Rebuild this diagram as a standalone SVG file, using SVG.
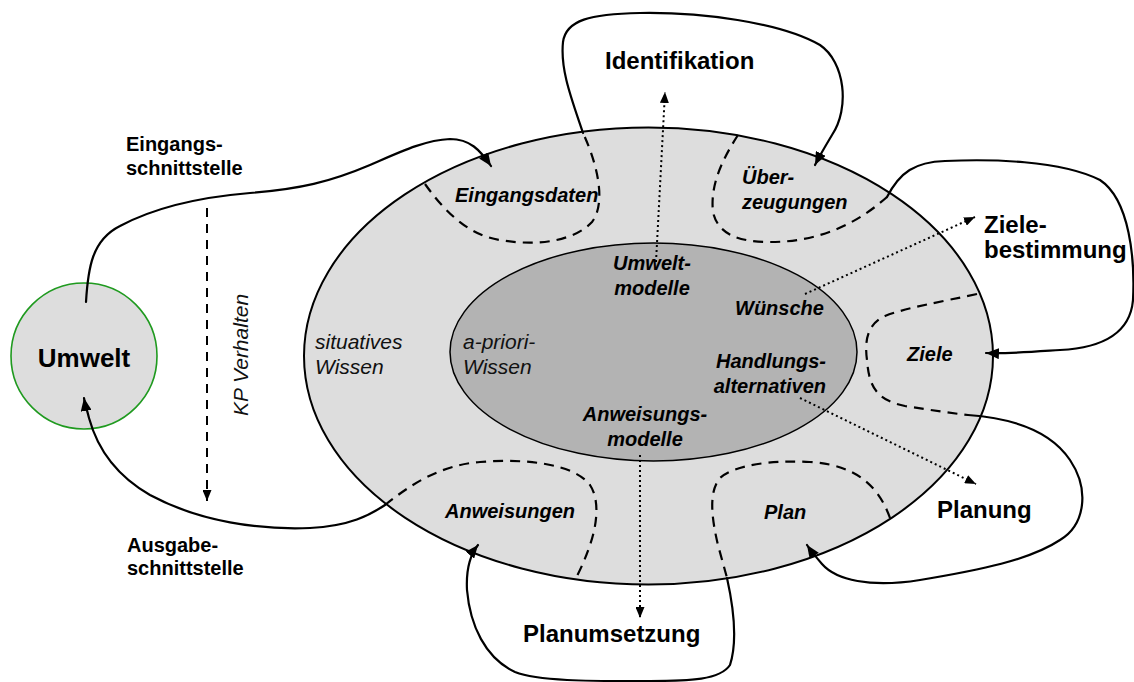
<svg xmlns="http://www.w3.org/2000/svg" width="1134" height="682" viewBox="0 0 1134 682">
  <style>
    .bold { font-family: "Liberation Sans", Arial, sans-serif; font-weight: bold; fill: #000; }
    .bi { font-family: "Liberation Sans", Arial, sans-serif; font-weight: bold; font-style: italic; font-size: 20px; fill: #000; }
    .it { font-family: "Liberation Sans", Arial, sans-serif; font-style: italic; font-size: 21px; fill: #111; }
    .big { font-size: 24px; }
    .mid { font-size: 20px; }
    .flow { fill: none; stroke: #000; stroke-width: 2.2; stroke-linecap: round; }
    .region { fill: none; stroke: #000; stroke-width: 2.2; stroke-dasharray: 10 7; }
    .dot { fill: none; stroke: #000; stroke-width: 2; stroke-dasharray: 2 3; }
  </style>
  <defs>
    <marker id="arrow" markerUnits="userSpaceOnUse" markerWidth="13" markerHeight="11" refX="13" refY="5.5" orient="auto">
      <path d="M0,0 L13,5.5 L0,11 z" fill="#000"/>
    </marker>
    <marker id="arrowSmall" markerUnits="userSpaceOnUse" markerWidth="11" markerHeight="9" refX="11" refY="4.5" orient="auto">
      <path d="M0,0 L11,4.5 L0,9 z" fill="#000"/>
    </marker>
  </defs>

  <rect width="1134" height="682" fill="#fff"/>

  <!-- knowledge base: situative knowledge (outer) and a-priori knowledge (inner) -->
  <g id="situatives-wissen">
    <ellipse cx="648.5" cy="356" rx="344.5" ry="228.5" fill="#dddddd" stroke="#000" stroke-width="2"/>
    <text class="it" x="315" y="349">situatives</text>
    <text class="it" x="315" y="374">Wissen</text>
  </g>
  <g id="apriori-wissen">
    <ellipse cx="653.5" cy="352" rx="203.5" ry="109" fill="#b3b3b3" stroke="#000" stroke-width="1.5"/>
    <text class="it" x="463" y="349">a-priori-</text>
    <text class="it" x="463" y="374">Wissen</text>
  </g>

  <!-- environment -->
  <g id="umwelt">
    <circle cx="84" cy="356" r="73" fill="#dddddd" stroke="#1f9a1f" stroke-width="1.6"/>
    <text class="bold" x="84" y="367" font-size="26" text-anchor="middle">Umwelt</text>
  </g>

  <!-- data regions inside the situative knowledge -->
  <g id="eingangsdaten">
    <path class="region" d="M425,184 C440,205 465,235 500,240 C540,247 575,240 592,222 C605,205 600,170 583,133"/>
    <text class="bi" x="455" y="202">Eingangsdaten</text>
  </g>
  <g id="ueberzeugungen">
    <path class="region" d="M738,135 C722,160 710,185 713,212 C718,235 740,242 770,242 C810,242 850,230 887,197"/>
    <text class="bi" x="742" y="184">Über-</text>
    <text class="bi" x="742" y="209">zeugungen</text>
  </g>
  <g id="ziele">
    <path class="region" d="M977,294 C940,302 905,308 885,316 C865,325 865,345 867,360 C869,385 875,400 905,406 C930,410 950,413 968,415"/>
    <text class="bi" x="907" y="361">Ziele</text>
  </g>
  <g id="plan">
    <path class="region" d="M890,518 C880,490 860,465 810,462 C770,460 735,465 720,478 C708,492 712,520 718,545 C722,560 725,570 727,578"/>
    <text class="bi" x="764" y="519">Plan</text>
  </g>
  <g id="anweisungen">
    <path class="region" d="M385,505 C410,485 440,465 480,462 C530,458 575,465 590,485 C600,500 597,525 590,545 C585,560 580,570 575,580"/>
    <text class="bi" x="445" y="518">Anweisungen</text>
  </g>

  <!-- models inside the a-priori knowledge -->
  <g id="umweltmodelle">
    <text class="bi" x="652" y="270" text-anchor="middle">Umwelt-</text>
    <text class="bi" x="652" y="295" text-anchor="middle">modelle</text>
  </g>
  <g id="wuensche">
    <text class="bi" x="735" y="315">Wünsche</text>
  </g>
  <g id="handlungsalternativen">
    <text class="bi" x="826" y="368" text-anchor="end">Handlungs-</text>
    <text class="bi" x="826" y="393" text-anchor="end">alternativen</text>
  </g>
  <g id="anweisungsmodelle">
    <text class="bi" x="645" y="421" text-anchor="middle">Anweisungs-</text>
    <text class="bi" x="645" y="446" text-anchor="middle">modelle</text>
  </g>

  <!-- process labels -->
  <g id="identifikation">
    <text class="bold big" x="605" y="69">Identifikation</text>
  </g>
  <g id="zielebestimmung">
    <text class="bold big" x="984" y="233">Ziele-</text>
    <text class="bold big" x="984" y="258">bestimmung</text>
  </g>
  <g id="planung">
    <text class="bold big" x="937" y="518">Planung</text>
  </g>
  <g id="planumsetzung">
    <text class="bold big" x="523" y="642">Planumsetzung</text>
  </g>
  <g id="eingangsschnittstelle">
    <text class="bold mid" x="126" y="151">Eingangs-</text>
    <text class="bold mid" x="126" y="175">schnittstelle</text>
  </g>
  <g id="ausgabeschnittstelle">
    <text class="bold mid" x="127" y="552">Ausgabe-</text>
    <text class="bold mid" x="127" y="575">schnittstelle</text>
  </g>
  <g id="kp-verhalten">
    <text class="it" font-size="20" transform="translate(248,355) rotate(-90)" text-anchor="middle">KP Verhalten</text>
  </g>

  <!-- connectors -->
  <g id="connectors">
    <!-- input interface -->
    <path class="flow" marker-end="url(#arrow)" d="M86,302 C88,268 92,240 120,226 C150,210 190,198 250,193 C300,189 330,182 370,165 C400,152 425,140 450,139 C470,139 480,150 491,166"/>
    <!-- output interface -->
    <path class="flow" marker-end="url(#arrow)" d="M385,505 C370,515 350,526 310,528 C260,530 200,522 150,495 C110,472 95,440 89,418 C87,410 85,404 84,398"/>
    <!-- behaviour -->
    <path fill="none" stroke="#000" stroke-width="2" stroke-dasharray="9 7" marker-end="url(#arrowSmall)" d="M207,208 L207,501"/>
    <!-- identification loop -->
    <path class="flow" marker-end="url(#arrow)" d="M583,133 C572,100 560,70 563,42 C566,20 590,14 640,13 C700,12 780,22 820,45 C845,62 850,108 832,135 C826,145 820,155 815,165"/>
    <!-- goal determination loop -->
    <path class="flow" marker-end="url(#arrow)" d="M887,197 C900,172 915,162 945,161 C990,159 1060,160 1100,180 C1130,200 1135,260 1133,300 C1130,335 1100,348 1060,350 C1030,352 1005,354 986,353"/>
    <!-- planning loop -->
    <path class="flow" marker-end="url(#arrow)" d="M968,415 C1010,418 1050,430 1070,460 C1090,490 1085,525 1060,540 C1030,560 980,570 920,580 C870,588 836,580 822,564 C816,557 811,551 807,545"/>
    <!-- plan execution loop -->
    <path class="flow" marker-end="url(#arrow)" d="M727,578 C733,605 738,640 730,665 C720,680 690,681 650,681 C600,681 540,682 515,672 C485,658 470,625 467,590 C466,570 470,555 478,545"/>
    <!-- model usage -->
    <path class="dot" marker-end="url(#arrowSmall)" d="M656,262 L665,92"/>
    <path class="dot" marker-end="url(#arrowSmall)" d="M805,294 L975,217"/>
    <path class="dot" marker-end="url(#arrowSmall)" d="M800,398 L976,484"/>
    <path class="dot" marker-end="url(#arrowSmall)" d="M640,455 L640,618"/>
  </g>
</svg>
